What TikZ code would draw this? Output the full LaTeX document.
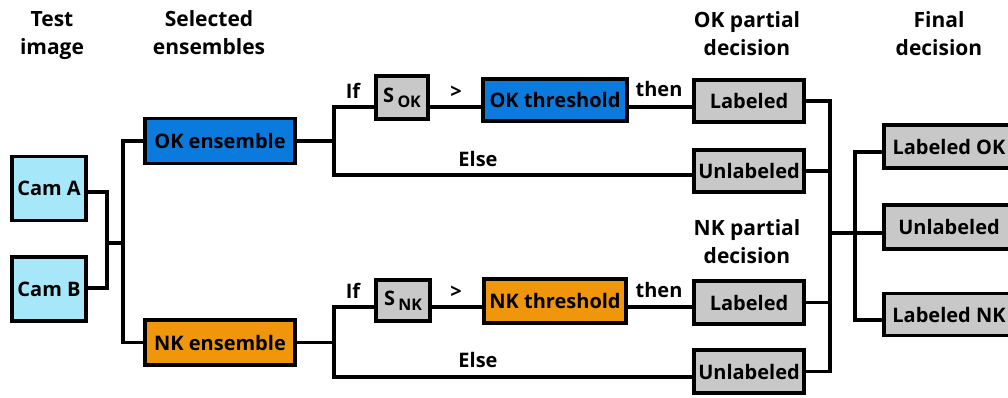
\documentclass[tikz,border=0pt]{standalone}
\usepackage{fontspec}
\setmainfont{Open Sans}
\definecolor{camc}{RGB}{166,232,250}
\definecolor{okc}{RGB}{10,122,220}
\definecolor{nkc}{RGB}{240,150,10}
\definecolor{grayc}{RGB}{200,200,200}
\begin{document}
\begin{tikzpicture}[x=1pt,y=-1pt,line width=3.6pt,
  txt/.style={font=\bfseries\fontsize{20}{27}\selectfont, inner sep=0pt},
  box/.style={txt, draw, line width=3.6pt, text=black},
  sz/.style 2 args={minimum width=#1, minimum height=#2},
  cam/.style={box, fill=camc, sz={74pt}{64pt}},
  okbox/.style={box, fill=okc},
  nkbox/.style={box, fill=nkc},
  gbox/.style={box, fill=grayc},
  head/.style={inner sep=0pt, font=\bfseries\fontsize{21}{27.5}\selectfont, align=center, anchor=base},
  wire/.style={draw, line width=3.6pt}]
\useasboundingbox (0,0) rectangle (1008,397);

% column headings (placed by the baseline of their last line)
\node[head] (h1) at (52,54) {Test\\image};
\node[head] (h2) at (209,54) {Selected\\ensembles};
\node[head] (h3) at (747,55) {OK partial\\decision};
\node[head] (h4) at (939,55) {Final\\decision};
\node[head] (h5) at (747,263) {NK partial\\decision};

% inputs
\node[cam] (camA) at (49,188.5) {Cam A};
\node[cam] (camB) at (49,289) {Cam B};

% ensembles
\node[okbox, sz={150pt}{45pt}] (okens) at (220,141) {OK ensemble};
\node[nkbox, sz={150pt}{45pt}] (nkens) at (220,342.5) {NK ensemble};

% OK branch
\node[gbox, sz={52pt}{43pt}] (sok) at (402,97.5) {S\,\raisebox{-5pt}{\fontsize{16}{16}\selectfont OK}};
\node[okbox, sz={144pt}{42pt}] (okthr) at (555,100) {OK threshold};
\node[gbox, sz={110pt}{42pt}] (lab1) at (749,101) {Labeled};
\node[gbox, sz={110pt}{42pt}] (unl1) at (749,171) {Unlabeled};

% NK branch
\node[gbox, sz={54pt}{41pt}] (snk) at (403,300.5) {S\,\raisebox{-5pt}{\fontsize{16}{16}\selectfont NK}};
\node[nkbox, sz={142pt}{44pt}] (nkthr) at (555,301) {NK threshold};
\node[gbox, sz={110pt}{43pt}] (lab2) at (749,302.5) {Labeled};
\node[gbox, sz={110pt}{43pt}] (unl2) at (749,371.5) {Unlabeled};

% final decision
\node[gbox, sz={130pt}{43pt}] (fok) at (949,146.5) {Labeled OK};
\node[gbox, sz={130pt}{44pt}] (fun) at (949,227) {Unlabeled};
\node[gbox, sz={130pt}{42pt}] (fnk) at (949,314.5) {Labeled NK};

% junction points
\coordinate (ca) at (107,192);
\coordinate (cb) at (107,288);
\coordinate (cj) at (107,243);
\coordinate (sp) at (123,243);
\coordinate (oif) at (334,107);
\coordinate (oel) at (334,175);
\coordinate (nif) at (334,307);
\coordinate (nel) at (334,377);
\coordinate (rj) at (830,233);
\coordinate (fj) at (855,233);
\coordinate (fo) at (855,152);
\coordinate (fn) at (855,320);

% inputs to ensembles
\path[wire] (camA.east |- ca) -- (ca) -- (cb) -- (camB.east |- cb);
\path[wire] (cj) -- (sp);
\path[wire] (okens.west) -| (sp) |- (nkens.west);

% OK branch wiring
\path[wire] (okens.east) -- (okens.east -| oif);
\path[wire] (sok.west |- oif) -- (oif) -- (oel) -- (unl1.west |- oel);
\path[wire] (sok.east |- oif) -- (okthr.west |- oif);
\path[wire] (okthr.east |- oif) -- (lab1.west |- oif);

% NK branch wiring
\path[wire] (nkens.east) -- (nkens.east -| nif);
\path[wire] (snk.west |- nif) -- (nif) -- (nel) -- (unl2.west |- nel);
\path[wire] (snk.east |- nif) -- (nkthr.west |- nif);
\path[wire] (nkthr.east |- nif) -- (lab2.west |- nif);

% partial decisions merge into the final decision
\path[wire] (lab1.east) -| (rj);
\path[wire] (unl1.east) -| (rj);
\path[wire] (lab2.east) -| (rj);
\path[wire] (unl2.east) -| (rj);
\path[wire] (rj) -- (fun.west |- rj);
\path[wire] (fok.west |- fo) -- (fo) -- (fn) -- (fnk.west |- fn);

% branch labels
\node[txt, anchor=base] (if1) at (353,98) {If};
\node[txt, anchor=base] (gt1) at (456,98) {>};
\node[txt, anchor=base] (th1) at (659,96) {then};
\node[txt, anchor=base] (el1) at (478,166) {Else};
\node[txt, anchor=base] (if2) at (353,298) {If};
\node[txt, anchor=base] (gt2) at (456,298) {>};
\node[txt, anchor=base] (th2) at (659,297) {then};
\node[txt, anchor=base] (el2) at (478,367) {Else};
\end{tikzpicture}
\end{document}
